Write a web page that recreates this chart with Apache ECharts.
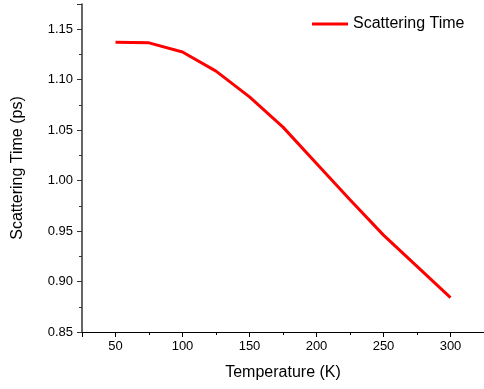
<!DOCTYPE html>
<html>
<head>
<meta charset="utf-8">
<script src="https://cdn.jsdelivr.net/npm/echarts@6/dist/echarts.min.js"></script>
<style>html,body{margin:0;padding:0;background:#fff;}#c{width:484px;height:389px;}</style>
</head>
<body>
<div id="c"></div>
<script>
var temperatures = [50, 75, 100, 125, 150, 175, 200, 225, 250, 275, 300];
var scatteringTime = [1.137, 1.1365, 1.1275, 1.1085, 1.083, 1.053, 1.017, 0.981, 0.946, 0.915, 0.884];
var seriesName = 'Scattering Time';

var chart = echarts.init(document.getElementById('c'), null, {renderer: 'canvas'});
var font = 'Liberation Sans, Arial, sans-serif';
chart.setOption({
  animation: false,
  backgroundColor: '#fff',
  grid: {left: 82, right: 0, top: 4, bottom: 57, containLabel: false},
  legend: {
    data: [{name: seriesName, icon: 'rect'}],
    left: 312, top: 16, padding: 0,
    itemWidth: 36, itemHeight: 3, itemGap: 5,
    itemStyle: {color: '#ff0000'},
    textStyle: {fontFamily: font, fontSize: 16, color: '#000', padding: [0, 0, 0, 0]}
  },
  xAxis: {
    type: 'value', min: 25, max: 325, splitNumber: 6,
    name: 'Temperature (K)', nameLocation: 'middle', nameGap: 33,
    nameTextStyle: {fontFamily: font, fontSize: 16, color: '#000'},
    axisLine: {show: true, onZero: false, lineStyle: {color: '#000', width: 1}},
    axisTick: {show: true, inside: false, length: 5, lineStyle: {color: '#000'}},
    minorTick: {show: true, splitNumber: 2, length: 3, lineStyle: {color: '#000'}},
    axisLabel: {fontFamily: font, fontSize: 13, color: '#000', margin: 8, showMinLabel: false, showMaxLabel: false,
      formatter: function (v) { return (v % 50 === 0) ? String(v) : ''; }},
    splitLine: {show: false}
  },
  yAxis: {
    type: 'value', min: 0.85, max: 1.175, splitNumber: 6,
    name: 'Scattering Time (ps)', nameLocation: 'middle', nameGap: 56,
    nameTextStyle: {fontFamily: font, fontSize: 16, color: '#000'},
    axisLine: {show: true, onZero: false, lineStyle: {color: '#333', width: 1.5}},
    axisTick: {show: true, inside: false, length: 5, lineStyle: {color: '#333'}},
    minorTick: {show: true, splitNumber: 2, length: 3, lineStyle: {color: '#333'}},
    axisLabel: {fontFamily: font, fontSize: 13, color: '#000', margin: 9, showMaxLabel: false,
      formatter: function (v) { return v.toFixed(2); }},
    splitLine: {show: false}
  },
  series: [{
    name: seriesName, type: 'line',
    data: temperatures.map(function (t, i) { return [t, scatteringTime[i]]; }),
    symbol: 'none', smooth: false,
    lineStyle: {color: '#ff0000', width: 3},
    itemStyle: {color: '#ff0000'}
  }]
});
</script>
</body>
</html>
